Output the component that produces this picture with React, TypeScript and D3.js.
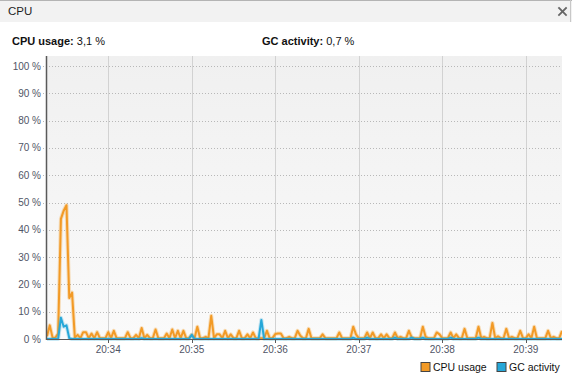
import React from "react";
import * as d3 from "d3";

// Sampling: one value every 2 seconds starting at 20:33:16
const startTime = new Date(2024, 0, 1, 20, 33, 16);
const stepSeconds = 2;

// CPU usage (%) per sample
const cpuUsage: number[] = [
  1, 5, 0.5, 0.5, 2, 44, 47, 49, 15, 17,
  0.5, 1.5, 0.3, 2.5, 2.5, 0.3, 2, 0.3, 2.5, 0.3,
  0.3, 0.3, 2.5, 0.3, 3, 0.3, 0.3, 0.3, 0.3, 2.5,
  0.3, 0.3, 1.5, 0.3, 4, 0.3, 1.5, 0.3, 0.3, 3.5,
  0.3, 0.3, 0.3, 2, 0.3, 3.5, 0.3, 3, 0.3, 3,
  0.3, 0.3, 1.5, 0.3, 4.5, 0.3, 0.3, 0.8, 0.3, 8.5,
  0.3, 1.7, 1.7, 0.3, 3, 0.3, 1.7, 0.3, 0.3, 3,
  0.3, 0.3, 1.7, 0.3, 2.4, 0.3, 0.3, 0.3, 0.3, 3,
  0.3, 0.3, 1.8, 2, 2, 0.3, 0.3, 0.8, 0.3, 0.3,
  3, 1.2, 0.3, 0.3, 3.7, 0.3, 0.3, 0.3, 0.3, 1.7,
  0.3, 0.3, 0.3, 0.3, 0.3, 2.4, 0.3, 0.3, 0.3, 0.3,
  4.5, 1.7, 0.3, 0.3, 0.3, 2.4, 0.3, 2.4, 0.3, 0.3,
  1.7, 0.3, 1.7, 0.3, 0.3, 2.4, 0.3, 0.8, 0.3, 0.3,
  3, 0.6, 0.3, 0.3, 0.3, 4.5, 0.8, 0.3, 0.3, 0.3,
  2.4, 1.7, 0.3, 0.3, 0.3, 2.4, 0.3, 1.7, 0.3, 0.3,
  3.7, 0.3, 0.3, 0.3, 0.3, 4.5, 0.3, 0.8, 0.3, 0.3,
  5.9, 0.3, 1, 0.3, 0.3, 3.7, 0.3, 0.8, 0.3, 0.3,
  3, 0.3, 0.3, 1.7, 0.3, 4.5, 0.3, 0.3, 0.3, 0.3,
  3, 0.3, 0.8, 0.3, 0.3, 3,
];

// GC activity (%) per sample
const gcActivity: number[] = [
  0, 0, 0, 0, 0, 7.8, 4.5, 5, 0.3, 0,
  0, 0, 0, 0, 0, 0, 0, 0, 0, 0,
  0, 0, 0, 0, 0, 0, 0, 0, 0, 0,
  0, 0, 0, 0, 0.3, 0, 0, 0, 0, 0,
  0, 0, 0, 0, 0, 0, 0, 0, 0, 0,
  0, 0, 1.5, 0, 0, 0, 0, 0, 0, 0,
  0, 0, 0, 0, 0, 0, 0, 0, 0, 0,
  0, 0, 0, 0, 0, 0, 0, 7, 0, 0,
  0, 0, 0, 0, 0, 0, 0, 0, 0, 0,
  0, 0, 0, 0, 0, 0, 0, 0, 0, 0,
  0, 0, 0, 0, 0, 0, 0, 0, 0, 0,
  0.5, 0, 0, 0, 0, 0.5, 0, 0, 0, 0,
  0, 0, 0, 0, 0, 0.5, 0, 0, 0, 0,
  0, 0.5, 0, 0, 0, 0.5, 0, 0, 0, 0,
  0, 0, 0, 0, 0, 0.5, 0, 0, 0, 0,
  0, 0, 0, 0, 0, 0.5, 0, 0, 0, 0,
  0, 0, 0, 0, 0, 0, 0, 0, 0, 0,
  0, 0, 0, 0, 0, 0, 0, 0, 0, 0,
  0, 0, 0, 0, 0, 0,
];

const yTicks: number[] = [0, 10, 20, 30, 40, 50, 60, 70, 80, 90, 100];
const xTickLabels: string[] = ["20:34", "20:35", "20:36", "20:37", "20:38", "20:39"];

const panelTitle = "CPU";
const cpuCurrent = "3,1 %";
const gcCurrent = "0,7 %";
const seriesNames: string[] = ["CPU usage", "GC activity"];

const W = 572;
const H = 378;
const plot = { left: 47, right: 562, top: 56, bottom: 339 };
const hundredY = 66; // 100 % sits 10px below the top of the plot area

const CPU_COLOR = "#f29a26";
const GC_COLOR = "#26a7d8";
const FONT = "'Liberation Sans', Arial, sans-serif";

export default function App() {
  const t = (i: number) => new Date(startTime.getTime() + i * stepSeconds * 1000);
  const endTime = new Date(2024, 0, 1, 20, 39, 26);

  const x = d3.scaleTime().domain([startTime, endTime]).range([plot.left, plot.right]);
  const y = d3.scaleLinear().domain([0, 100]).range([plot.bottom, hundredY]);

  const line = d3
    .line<number>()
    .x((_, i) => x(t(i)))
    .y((v) => y(v))
    .curve(d3.curveLinear);

  const minuteTicks = xTickLabels.map((lbl) => {
    const [h, m] = lbl.split(":").map(Number);
    return { lbl, date: new Date(2024, 0, 1, h, m, 0) };
  });

  return (
    <svg
      width={W}
      height={H}
      viewBox={`0 0 ${W} ${H}`}
      style={{ position: "fixed", left: 0, top: 0, background: "#fff" }}
      fontFamily={FONT}
    >
      <defs>
        <linearGradient id="plotBg" x1="0" y1="0" x2="0" y2="1">
          <stop offset="0%" stopColor="#f0f0f0" />
          <stop offset="100%" stopColor="#fafafa" />
        </linearGradient>
        <clipPath id="plotClip">
          <rect x={plot.left} y={plot.top} width={plot.right - plot.left} height={plot.bottom - plot.top + 2} />
        </clipPath>
      </defs>

      {/* panel title bar */}
      <rect x={0} y={0} width={W} height={22} fill="#f2f2f2" />
      <line x1={0} x2={W} y1={0.5} y2={0.5} stroke="#b4b4b4" />
      <line x1={570.5} x2={570.5} y1={0} y2={22} stroke="#c8c8c8" />
      <text x={8} y={15} fontSize={11.5} fill="#1e1e1e">{panelTitle}</text>
      <g stroke="#666" strokeWidth={1.8} strokeLinecap="square">
        <line x1={559} y1={8} x2={566} y2={15} />
        <line x1={566} y1={8} x2={559} y2={15} />
      </g>

      {/* current values */}
      <text x={12} y={45} fontSize={11} fill="#111">
        <tspan fontWeight="bold">CPU usage:</tspan>
        <tspan> {cpuCurrent}</tspan>
      </text>
      <text x={262} y={45} fontSize={11} fill="#111">
        <tspan fontWeight="bold">GC activity:</tspan>
        <tspan> {gcCurrent}</tspan>
      </text>

      {/* plot area */}
      <rect
        x={plot.left}
        y={plot.top}
        width={plot.right - plot.left}
        height={plot.bottom - plot.top}
        fill="url(#plotBg)"
      />

      {/* vertical minute grid */}
      {minuteTicks.map((d) => (
        <line
          key={d.lbl}
          x1={Math.round(x(d.date)) + 0.5}
          x2={Math.round(x(d.date)) + 0.5}
          y1={plot.top}
          y2={plot.bottom}
          stroke="#d2d2d2"
        />
      ))}

      {/* horizontal dotted grid and y labels */}
      {yTicks.map((v) => (
        <g key={v}>
          {v > 0 && (
            <line
              x1={plot.left - 4}
              x2={plot.right}
              y1={Math.round(y(v)) + 0.5}
              y2={Math.round(y(v)) + 0.5}
              stroke="#b8b8b8"
              strokeDasharray="1 2"
            />
          )}
          <text x={41} y={y(v) + 3.5} fontSize={10} textAnchor="end" fill="#505566">
            {v} %
          </text>
        </g>
      ))}

      {/* series */}
      <g clipPath="url(#plotClip)" fill="none" strokeLinejoin="round">
        <path d={line(cpuUsage) ?? ""} stroke={CPU_COLOR} strokeWidth={4} strokeOpacity={0.3} />
        <path d={line(cpuUsage) ?? ""} stroke={CPU_COLOR} strokeWidth={2} />
        <path d={line(gcActivity) ?? ""} stroke={GC_COLOR} strokeWidth={4} strokeOpacity={0.25} />
        <path d={line(gcActivity) ?? ""} stroke={GC_COLOR} strokeWidth={2} />
      </g>

      {/* axes */}
      <line x1={plot.left - 0.5} x2={plot.left - 0.5} y1={plot.top} y2={plot.bottom + 1} stroke="#5a5a5a" strokeWidth={1.5} />
      <line x1={plot.left} x2={plot.right} y1={plot.bottom + 0.5} y2={plot.bottom + 0.5} stroke="#5a5a5a" strokeWidth={1} />
      {minuteTicks.map((d) => (
        <g key={"t" + d.lbl}>
          <line
            x1={Math.round(x(d.date)) + 0.5}
            x2={Math.round(x(d.date)) + 0.5}
            y1={plot.bottom}
            y2={plot.bottom + 4}
            stroke="#5a5a5a"
          />
          <text x={x(d.date)} y={353} fontSize={10} textAnchor="middle" fill="#505566">
            {d.lbl}
          </text>
        </g>
      ))}

      {/* legend */}
      <g fontSize={10.5} fill="#111">
        <rect x={421} y={362.5} width={9} height={9} fill={CPU_COLOR} stroke="#444" />
        <text x={433} y={371}>{seriesNames[0]}</text>
        <rect x={497} y={362.5} width={9} height={9} fill={GC_COLOR} stroke="#444" />
        <text x={509} y={371}>{seriesNames[1]}</text>
      </g>
    </svg>
  );
}
